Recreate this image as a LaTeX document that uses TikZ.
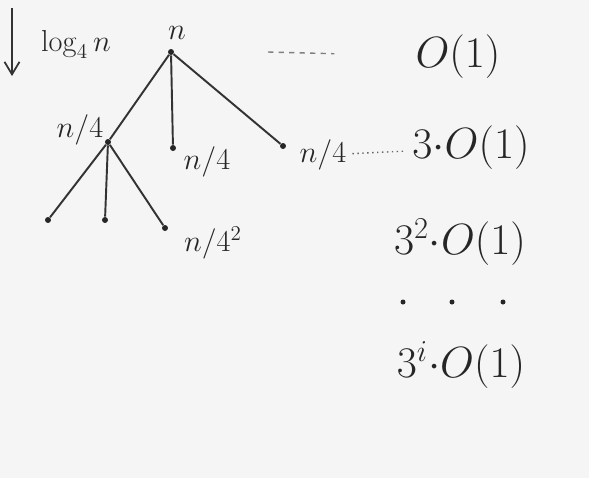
\documentclass[tikz,border=0pt]{standalone}
\usepackage{tikz}
\usetikzlibrary{arrows.meta}

\begin{document}
\begin{tikzpicture}[x=0.02cm, y=-0.02cm,
        dot/.style={circle, fill=black!85, inner sep=0pt, minimum size=0.12cm},
        lbl/.style={font=\fontsize{18}{21}\selectfont, text=black!85},
        cost/.style={font=\fontsize{24}{28}\selectfont, text=black!85},
        edge/.style={line width=1.1pt, black!80}]
        \useasboundingbox[fill=black!4] (0,0) rectangle (589,478);

        % Depth arrow
        \coordinate (dtop) at (12,8);
        \coordinate (dbot) at (12,76);
        \draw[-{Straight Barb[length=2.5mm, width=3mm]}, line width=1pt, black!80] (dtop) -- (dbot);
        \node[lbl] (depth) at (76,44) {$\log_4 n$};

        % Root
        \node[dot] (root) at (171,52) {};
        \node[lbl] (nroot) at (177,33) {$n$};

        % Level 1
        \node[dot] (a) at (108,142) {};
        \node[dot] (b) at (173,148) {};
        \node[dot] (c) at (283,146) {};
        \node[lbl] (na) at (80,130) {$n/4$};
        \node[lbl] (nb) at (207,162) {$n/4$};
        \node[lbl] (nc) at (323,155) {$n/4$};

        % Level 2
        \node[dot] (aa) at (48,220) {};
        \node[dot] (ab) at (105,220) {};
        \node[dot] (ac) at (165,228) {};
        \node[lbl] (nac) at (213,243) {$n/4^2$};

        % Edges
        \draw[edge] (root) -- (a);
        \draw[edge] (root) -- (b);
        \draw[edge] (root) -- (c);
        \draw[edge] (a) -- (aa);
        \draw[edge] (a) -- (ab);
        \draw[edge] (a) -- (ac);

        % Costs per level
        \node[cost] (l0) at (458,57) {$O(1)$};
        \node[cost] (l1) at (471,148) {$3{\cdot}O(1)$};
        \node[cost] (l2) at (460,242) {$3^2{\cdot}O(1)$};
        \foreach \i/\x in {1/403, 2/452, 3/503}
            \node[dot, minimum size=0.1cm] (v\i) at (\x,302) {};
        \node[cost] (li) at (461,365) {$3^i{\cdot}O(1)$};

        % Leaders
        \coordinate (lead0) at (268,52);
        \draw[dashed, black!50, line width=0.8pt, shorten >=1.5cm] (lead0) -- (l0);
        \draw[dotted, black!60, line width=0.8pt] (nc) -- (l1);
    \end{tikzpicture}
\end{document}
